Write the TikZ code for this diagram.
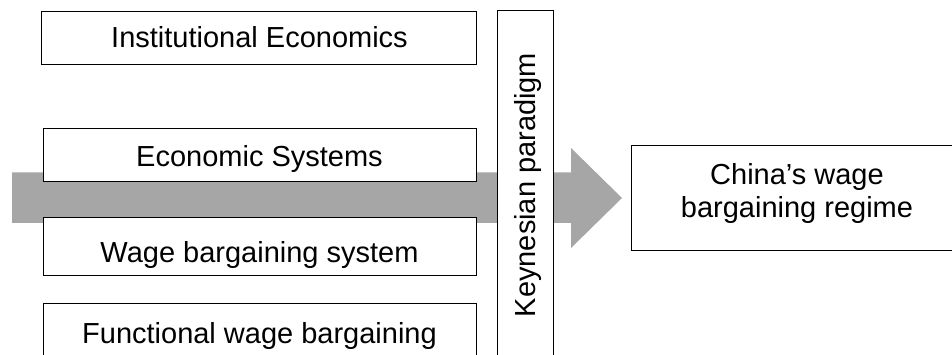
\documentclass[tikz,border=0pt]{standalone}
\usepackage{fontspec}
\setmainfont{Liberation Sans}
\definecolor{arrowgray}{HTML}{A6A6A6}
\begin{document}
\begin{tikzpicture}[x=1pt,y=-1pt,
  box/.style={draw=black, line width=0.9pt, fill=white, inner sep=0pt, outer sep=0pt, anchor=north west},
  lbl/.style={anchor=base, inner sep=0pt, font=\fontsize{29}{33}\selectfont}]
\useasboundingbox (0,0) rectangle (952,355);
\clip (0,0) rectangle (952,355);
% big gray block arrow
\fill[arrowgray] (12,172.5) -- (571,172.5) -- (571,148) -- (622,198) -- (571,248) -- (571,223) -- (12,223) -- cycle;
% boxes
\node[box, minimum width=435pt, minimum height=53pt] (inst) at (41,11) {};
\node[box, minimum width=433pt, minimum height=53pt] (econ) at (43,128.3) {};
\node[box, minimum width=433pt, minimum height=57.5pt] (wage) at (43,217.8) {};
\node[box, minimum width=433pt, minimum height=70pt] (func) at (43,303.3) {};
\node[box, minimum width=56pt, minimum height=370pt] (keyn) at (497,10) {};
\node[box, minimum width=334pt, minimum height=105pt] (china) at (631,145) {};
% labels
\node[lbl] (t1) at (259.5,48) {Institutional Economics};
\node[lbl] (t2) at (259.5,167) {Economic Systems};
\node[lbl] (t3) at (259.5,262) {Wage bargaining system};
\node[lbl] (t4) at (259.5,343) {Functional wage bargaining};
\node[lbl, rotate=90] (t5) at (535,185) {Keynesian paradigm};
\node[lbl] (t6) at (797,185) {China’s wage};
\node[lbl] (t7) at (797,218) {bargaining regime};
\end{tikzpicture}
\end{document}
